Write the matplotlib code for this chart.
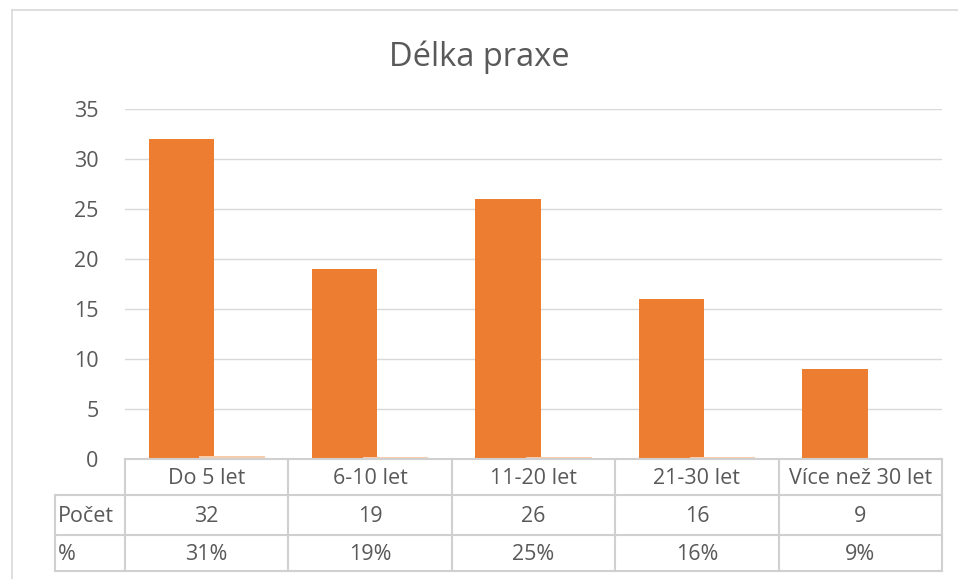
import matplotlib
matplotlib.use("Agg")
import matplotlib.pyplot as plt
from matplotlib.lines import Line2D

# data
categories = ["Do 5 let", "6-10 let", "11-20 let", "21-30 let", "Více než 30 let"]
pocet = [32, 19, 26, 16, 9]
procenta = [0.31, 0.19, 0.25, 0.16, 0.09]
row_labels = ["Počet", "%"]
y_ticks = [0, 5, 10, 15, 20, 25, 30, 35]

ORANGE = "#ED7D31"
PALE = "#F8CBAD"
TEXT = "#595959"
GRID = "#D9D9D9"
FONT = "Open Sans"

W, H = 958, 579
fig = plt.figure(figsize=(W / 100, H / 100), dpi=100, facecolor="white")


def fx(px):
    return px / W


def fy(py):
    return 1 - py / H


# outer chart border
for (x0, y0, x1, y1) in [(12, 10, 958, 10), (12, 10, 12, 579)]:
    fig.add_artist(Line2D([fx(x0), fx(x1)], [fy(y0), fy(y1)], color=GRID, lw=1.2,
                          transform=fig.transFigure))

# main plot area: x 125..942, y 109 (35) .. 459 (0)
ax = fig.add_axes([fx(125), fy(459), fx(942 - 125), (459 - 109) / H])
n = len(categories)
xs = list(range(n))
off, bw = 0.155, 0.40
ax.bar([x - off for x in xs], pocet, width=bw, color=ORANGE, zorder=3)
ax.bar([x + off for x in xs], procenta, width=bw, color=PALE, zorder=3)
ax.set_xlim(-0.5, n - 0.5)
ax.set_ylim(0, 35)
ax.set_yticks(y_ticks)
ax.set_yticklabels([str(t) for t in y_ticks], fontsize=15.5, color=TEXT, family=FONT)
ax.tick_params(axis="y", length=0, pad=19)
ax.set_xticks([])
for s in ax.spines.values():
    s.set_visible(False)
ax.grid(axis="y", color=GRID, lw=1, zorder=0)

fig.text(0.5, fy(57), "Délka praxe", ha="center", va="center",
         fontsize=23.5, color=TEXT, family=FONT)

# data table below axis: x 55..942, rows at y 459, 495, 535, 571
unit = (942 - 125) / n
left_x = -0.5 - (125 - 55) / unit
tab = fig.add_axes([fx(55), fy(571), fx(942 - 55), (571 - 459) / H])
tab.set_xlim(left_x, n - 0.5)
tab.set_ylim(571, 459)
tab.axis("off")
row_y = [459, 495, 535, 571]
lc = "#D0D0D0"
tab.plot([-0.5, n - 0.5], [459, 459], color=lc, lw=1.5, clip_on=False)
for y in row_y[1:]:
    tab.plot([left_x, n - 0.5], [y, y], color=lc, lw=1.5, clip_on=False)
tab.plot([left_x, left_x], [495, 571], color=lc, lw=1.5, clip_on=False)
for i in range(n + 1):
    tab.plot([i - 0.5, i - 0.5], [459, 571], color=lc, lw=1.5, clip_on=False)

fs = 15.5
for i, c in enumerate(categories):
    tab.text(i, 479, c, ha="center", va="center", fontsize=fs, color=TEXT, family=FONT)
    tab.text(i, 517, str(pocet[i]), ha="center", va="center", fontsize=fs, color=TEXT, family=FONT)
    tab.text(i, 555, f"{round(procenta[i] * 100)}%", ha="center", va="center",
             fontsize=fs, color=TEXT, family=FONT)
for lbl, y in zip(row_labels, [517, 555]):
    tab.text(left_x + 0.02, y, lbl, ha="left", va="center", fontsize=fs, color=TEXT, family=FONT)

fig.savefig("out.png", dpi=100, facecolor="white")
